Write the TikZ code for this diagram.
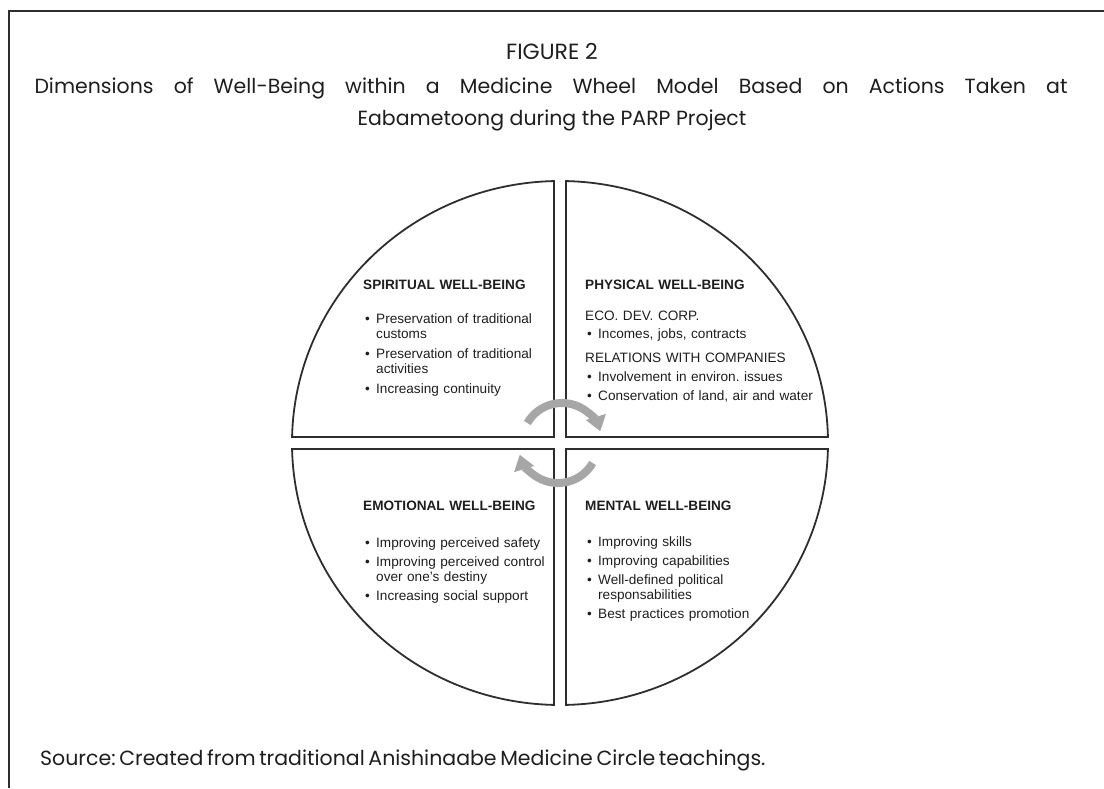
\documentclass[tikz,border=0pt]{standalone}
\usepackage{fontspec}
\setmainfont{Liberation Sans}
\newfontfamily\titlefont{Poppins}
\usetikzlibrary{arrows.meta}
\frenchspacing
\definecolor{qline}{HTML}{2E2E2E}
\definecolor{txt}{HTML}{1E1E1E}
\definecolor{arrowgray}{HTML}{A6A6A6}
\newcommand\bitem{\par\hangindent=13pt\hangafter=1\noindent\makebox[13pt][l]{\hspace{2pt}\textbullet}}
\newcommand\gap[1]{\par\vspace{#1pt}}
\begin{document}
\begin{tikzpicture}[x=1pt,y=1pt,
  quad/.style={draw=qline, line width=1.8pt, line join=miter},
  qtext/.style={anchor=north west, inner sep=0pt, text width=240pt, align=left,
    font=\fontsize{13.6}{15}\selectfont\frenchspacing, text=txt},
  titletext/.style={inner sep=0pt, anchor=base, text=txt, font=\titlefont\fontsize{20.5}{24}\selectfont},
  cyc/.style={draw=arrowgray, line width=8pt, -{Triangle[width=20pt,length=15pt]}},
]
\useasboundingbox (0,0) rectangle (1104,788);
% frame
\draw[draw=qline, line width=1.8pt] (9,0) -- (9,777) -- (1104,777);
% titles
\node[titletext, font=\titlefont\fontsize{22}{24}\selectfont] (fig) at (552,728) {FIGURE 2};
\node[titletext] (t1) at (551,694) {\makebox[1033pt][s]{Dimensions of Well-Being within a Medicine Wheel Model Based on Actions Taken at}};
\node[titletext] (t2) at (552,662) {Eabametoong during the PARP Project};
\node[titletext, anchor=base west] (src) at (40,23) {\makebox[717pt][s]{Source: Created from traditional Anishinaabe Medicine Circle teachings.}};
% quadrants
\draw[quad] (554,351) -- (292.07,351) arc[start angle=178.688, end angle=91.283, x radius=268, y radius=262] -- cycle;
\draw[quad] (566,351) -- (827.93,351) arc[start angle=1.312, end angle=88.717, x radius=268, y radius=262] -- cycle;
\draw[quad] (566,339) -- (827.93,339) arc[start angle=-1.312, end angle=-88.717, x radius=268, y radius=262] -- cycle;
\draw[quad] (554,339) -- (292.07,339) arc[start angle=181.312, end angle=268.717, x radius=268, y radius=262] -- cycle;
% cycle arrows
\coordinate (ca) at (562,345);
\coordinate (cb) at (558,345);
\draw[cyc] (ca) ++(150:40) arc[start angle=150, end angle=17, radius=40];
\draw[cyc] (cb) ++(-30:40) arc[start angle=-30, end angle=-163, radius=40];
% texts
\node[qtext] (sp) at (363,508) {\parindent=0pt\noindent\textbf{SPIRITUAL WELL-BEING}\gap{19}%
\bitem Preservation of traditional\newline customs\gap{5}%
\bitem Preservation of traditional\newline activities\gap{5}%
\bitem Increasing continuity\par};
\node[qtext] (ph) at (585,508) {\parindent=0pt\noindent\textbf{PHYSICAL WELL-BEING}\gap{16}%
\noindent ECO. DEV. CORP.\gap{3}%
\bitem Incomes, jobs, contracts\gap{9}%
\noindent RELATIONS WITH COMPANIES\gap{4}%
\bitem Involvement in environ. issues\gap{4}%
\bitem Conservation of land, air and water\par};
\node[qtext] (em) at (363,287) {\parindent=0pt\noindent\textbf{EMOTIONAL WELL-BEING}\gap{22}%
\bitem Improving perceived safety\gap{4}%
\bitem Improving perceived control\newline over one’s destiny\gap{4}%
\bitem Increasing social support\par};
\node[qtext] (me) at (585,287) {\parindent=0pt\noindent\textbf{MENTAL WELL-BEING}\gap{21}%
\bitem Improving skills\gap{4}%
\bitem Improving capabilities\gap{4}%
\bitem Well-defined political\newline responsabilities\gap{4}%
\bitem Best practices promotion\par};
\end{tikzpicture}
\end{document}
